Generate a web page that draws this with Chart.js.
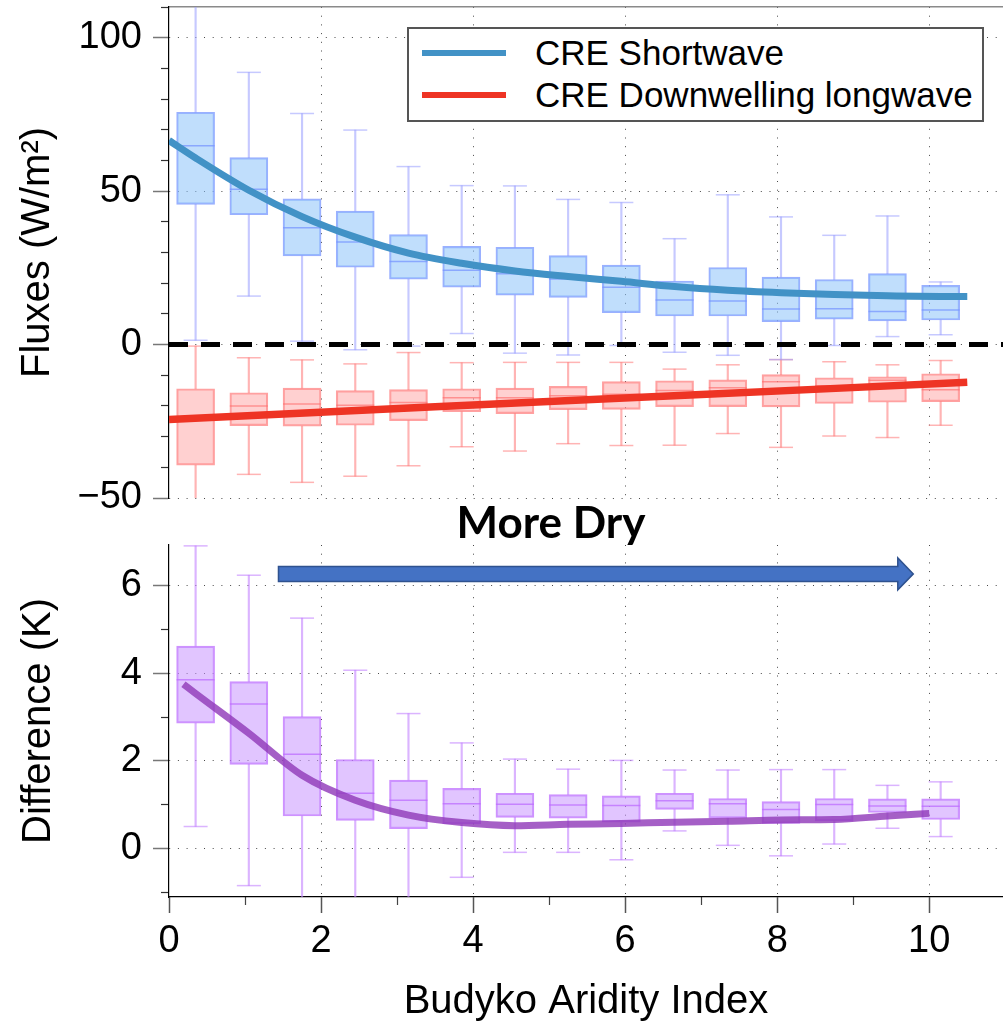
<!DOCTYPE html>
<html><head><meta charset="utf-8">
<script src="https://cdn.jsdelivr.net/npm/chart.js@4.4.1/dist/chart.umd.min.js"></script>
<style>
html,body{margin:0;padding:0;background:#fff;}
#wrap{position:relative;width:1003px;height:1023px;overflow:hidden;background:#fff;}
canvas{position:absolute;left:0;}
#c1{top:0;z-index:1;}
#c2{top:500px;z-index:2;}
#legend{position:absolute;left:407px;top:27px;width:577px;height:95px;box-sizing:border-box;border:2px solid #555;background:#fff;z-index:5;}
.sw{position:absolute;left:422px;width:84px;height:6px;z-index:6;}
.lt{position:absolute;left:535px;font-family:'Liberation Sans',Arial,sans-serif;font-size:35px;line-height:40px;color:#000;white-space:nowrap;z-index:6;}
#moredry{position:absolute;left:251px;width:600px;top:496px;text-align:center;font-family:Lato,'Open Sans',sans-serif;font-weight:700;font-size:44px;line-height:50px;color:#000;z-index:6;}
</style></head>
<body><div id="wrap">
<canvas id="c1" width="1003" height="520"></canvas>
<canvas id="c2" width="1003" height="523"></canvas>
<div id="legend"></div>
<div class="sw" style="top:50px;background:#4292C6;"></div>
<div class="sw" style="top:92px;background:#EE3424;"></div>
<div class="lt" style="top:33px;">CRE Shortwave</div>
<div class="lt" style="top:75px;">CRE Downwelling longwave</div>
<div id="moredry">More Dry</div>
</div>
<script>
// ---------------- data ----------------
const boxX = [0.35, 1.05, 1.75, 2.45, 3.15, 3.85, 4.55, 5.25, 5.95, 6.65, 7.35, 8.05, 8.75, 9.45, 10.15];

// CRE shortwave (W/m2)
const swLow  = [1.4, 15.8, 1.1, -1.7, -0.5, 3.6, -2.8, -3.4, -0.3, -2.5, -3.5, -4.9, -0.3, 2.6, 3.2];
const swQ1   = [45.7, 42.3, 28.9, 25.2, 21.3, 18.7, 16.1, 15.4, 10.4, 9.3, 9.3, 7.5, 8.3, 7.7, 8.0];
const swMed  = [64.8, 50.6, 38.1, 33.4, 27.1, 24.2, 23.1, 21.4, 18.7, 14.5, 14.2, 11.6, 11.7, 10.8, 11.3];
const swQ3   = [75.7, 60.9, 47.5, 43.5, 35.8, 32.0, 31.7, 29.0, 25.9, 20.7, 25.1, 22.0, 21.2, 23.1, 19.3];
const swHigh = [125, 88.7, 75.3, 69.9, 58.0, 51.8, 51.7, 47.3, 46.3, 34.5, 48.8, 41.6, 35.6, 41.9, 20.4];

// CRE downwelling longwave (W/m2)
const lwLow  = [-55, -42.3, -44.9, -42.9, -39.5, -33.3, -34.7, -32.3, -32.9, -32.8, -29.0, -33.5, -29.8, -30.3, -26.3];
const lwQ1   = [-39.3, -26.4, -26.6, -26.3, -24.8, -21.9, -22.5, -21.2, -21.1, -20.2, -20.2, -20.3, -19.2, -18.8, -18.6];
const lwMed  = [-24.0, -20.0, -19.4, -19.8, -18.9, -17.3, -17.3, -16.7, -16.2, -15.0, -14.1, -12.1, -13.4, -11.6, -14.7];
const lwQ3   = [-14.4, -15.7, -14.2, -15.0, -14.7, -14.4, -14.2, -13.6, -12.1, -11.8, -11.5, -9.8, -10.8, -10.5, -9.5];
const lwHigh = [-0.5, -4.3, -5.0, -6.3, -2.6, -5.9, -5.8, -5.8, -5.8, -8.0, -6.6, -4.9, -5.6, -6.6, -5.2];

// Temperature difference (K)
const dtLow  = [0.50, -0.85, -1.5, -1.5, -1.3, -0.66, -0.09, -0.09, -0.26, 0.40, 0.07, -0.17, 0.10, 0.46, 0.27];
const dtQ1   = [2.86, 1.92, 0.74, 0.64, 0.45, 0.56, 0.71, 0.69, 0.60, 0.89, 0.69, 0.57, 0.63, 0.82, 0.66];
const dtMed  = [3.85, 3.30, 2.15, 1.26, 1.10, 1.02, 1.01, 0.99, 0.98, 1.09, 1.02, 0.89, 1.00, 0.97, 0.96];
const dtQ3   = [4.62, 3.81, 3.01, 2.03, 1.56, 1.37, 1.26, 1.23, 1.20, 1.26, 1.14, 1.07, 1.14, 1.13, 1.13];
const dtHigh = [6.91, 6.24, 5.26, 4.07, 3.08, 2.41, 2.04, 1.81, 2.01, 1.79, 1.79, 1.80, 1.80, 1.44, 1.52];

// fitted curves
const swFitX = [0, 0.35, 1.05, 1.75, 2.45, 3.15, 3.85, 4.55, 5.25, 5.95, 6.65, 7.35, 8.05, 8.75, 9.45, 10.15, 10.5];
const swFitY = [66.5, 60.8, 50.3, 41.7, 35.0, 29.8, 26.5, 24.0, 22.2, 20.6, 18.9, 17.7, 16.9, 16.3, 15.9, 15.7, 15.7];
const lwFitX = [0, 3.5, 7.0, 10.5];
const lwFitY = [-24.4, -20.3, -16.3, -12.3];
const dtFitX = [0.19, 0.35, 1.05, 1.75, 2.45, 3.15, 3.85, 4.55, 5.25, 5.95, 6.65, 7.35, 8.05, 8.75, 9.45, 10.0];
const dtFitY = [3.75, 3.54, 2.63, 1.67, 1.10, 0.76, 0.59, 0.52, 0.55, 0.57, 0.60, 0.62, 0.65, 0.66, 0.74, 0.80];

// axes / ticks
const xMajorTicks = [0, 2, 4, 6, 8, 10];
const xMinorTicks = [1, 3, 5, 7, 9];
const fluxMajorTicks = [-50, 0, 50, 100];
const fluxMinorTicks = [-40, -30, -20, -10, 10, 20, 30, 40, 60, 70, 80, 90, 110];
const dtMajorTicks = [0, 2, 4, 6];
const dtMinorTicks = [-1, 1, 3, 5];
const zeroLineX = [0, 10.97];
const zeroLineY = [0, 0];

// ---------------- styles / layout ----------------
const FONT = "'Liberation Sans', Arial, sans-serif";
const X_RANGE = {min: 0, max: 10.97, offset: false};
const FLUX_RANGE = {min: -50, max: 110};
const DT_RANGE = {min: -1.11, max: 6.93};
const ARROW = {from: 1.44, to: 9.79, at: 6.27};
const GRID = 'rgba(40,40,40,0.85)';
const DOTS = [1, 7.7];

const blueCol = {fill: 'rgba(140,195,250,0.55)', border: 'rgba(120,150,255,0.75)', whisker: 'rgba(160,165,255,0.6)'};
const redCol = {fill: 'rgba(255,150,150,0.45)', border: 'rgba(255,110,110,0.65)', whisker: 'rgba(255,130,130,0.6)'};
const purpCol = {fill: 'rgba(200,150,255,0.55)', border: 'rgba(190,110,255,0.75)', whisker: 'rgba(195,130,255,0.6)'};

const pts = (xs, ys) => xs.map((x, i) => ({x: x, y: ys[i]}));
const rng = (xs, a, b) => xs.map((x, i) => ({x: x, y: [a[i], b[i]]}));

function boxDatasets(low, q1, med, q3, high, col) {
  return [
    {type: 'line', data: pts(boxX, med), showLine: false, pointStyle: 'line', pointRadius: 19, pointHoverRadius: 19,
     pointBorderWidth: 1.5, pointBorderColor: col.border, pointBackgroundColor: col.border, borderColor: col.border, order: 2, clip: 0},
    {type: 'bar', data: rng(boxX, q1, q3), backgroundColor: col.fill, borderColor: col.border, borderWidth: 1.5,
     borderSkipped: false, barThickness: 38, grouped: false, order: 3, clip: 0},
    {type: 'line', data: pts(boxX, low).concat(pts(boxX, high)), showLine: false, pointStyle: 'line', pointRadius: 12, pointHoverRadius: 12,
     pointBorderWidth: 1.5, pointBorderColor: col.whisker, borderColor: col.whisker, order: 4, clip: 0},
    {type: 'bar', data: rng(boxX, low, q1), backgroundColor: col.whisker, borderWidth: 0, barThickness: 1.5, grouped: false, order: 5, clip: 0},
    {type: 'bar', data: rng(boxX, q3, high), backgroundColor: col.whisker, borderWidth: 0, barThickness: 1.5, grouped: false, order: 5, clip: 0}
  ];
}
function fitLine(xs, ys, color, width) {
  return {type: 'line', data: pts(xs, ys), borderColor: color, borderWidth: width, pointRadius: 0, pointHoverRadius: 0,
          cubicInterpolationMode: 'monotone', fill: false, order: 0, borderCapStyle: 'butt'};
}
const setTicks = vals => s => { s.ticks = vals.map(v => ({value: v})); };
const fixSize = (prop, val) => s => { s[prop] = val; s.paddingTop = 0; s.paddingBottom = 0; s.paddingLeft = 0; s.paddingRight = 0; };
const fmt = v => String(v).replace('-', '\u2212');
const gridColorNoZero = c => (c.tick && c.tick.value === 0) ? 'rgba(0,0,0,0)' : GRID;

function yMajor(range, ticks, title, titlePad) {
  return Object.assign({type: 'linear', position: 'left', weight: 1,
    afterBuildTicks: setTicks(ticks), afterFit: fixSize('width', 169),
    ticks: {font: {family: FONT, size: 38}, color: '#000', padding: 11, callback: fmt, autoSkip: false, maxRotation: 0},
    grid: {color: GRID, lineWidth: 1, drawTicks: true, tickLength: 16, tickColor: '#777', tickWidth: 1.5},
    border: {display: true, color: '#000', width: 1.2, dash: DOTS},
    title: {display: true, text: title, font: {family: FONT, size: 40}, color: '#000', padding: {top: titlePad, bottom: 0}}
  }, range);
}
function yMinor(range, ticks) {
  return Object.assign({type: 'linear', position: 'left', weight: 0, display: true,
    afterBuildTicks: setTicks(ticks), afterFit: fixSize('width', 0),
    ticks: {display: false},
    grid: {drawOnChartArea: false, drawTicks: true, tickLength: 8, tickColor: '#333', tickWidth: 1.2},
    border: {display: false}
  }, range);
}

const common = {
  responsive: false, animation: false, devicePixelRatio: 1, events: [],
  plugins: {legend: {display: false}, tooltip: {enabled: false}}
};

// ---------------- top panel ----------------
new Chart(document.getElementById('c1'), {
  type: 'bar',
  data: {datasets: [
    fitLine(swFitX, swFitY, '#4292C6', 7),
    fitLine(lwFitX, lwFitY, '#EE3424', 7.5),
    {type: 'line', data: pts(zeroLineX, zeroLineY), borderColor: '#000', borderWidth: 5, borderDash: [19, 13],
     pointRadius: 0, order: 1, borderCapStyle: 'butt'},
    ...boxDatasets(swLow, swQ1, swMed, swQ3, swHigh, blueCol),
    ...boxDatasets(lwLow, lwQ1, lwMed, lwQ3, lwHigh, redCol)
  ]},
  options: Object.assign({}, common, {
    layout: {autoPadding: false, padding: {top: 7, left: 0, right: 0, bottom: 0}},
    scales: {
      x: Object.assign({type: 'linear', position: 'bottom', weight: 1,
        afterBuildTicks: setTicks([2, 4, 6, 8, 10]), afterFit: fixSize('height', 22),
        ticks: {display: false},
        grid: {color: GRID, lineWidth: 1, drawTicks: false, offset: false},
        border: {display: false, dash: DOTS}}, X_RANGE),
      xTop: Object.assign({type: 'linear', position: 'top', display: true,
        afterBuildTicks: setTicks([]), afterFit: fixSize('height', 0),
        ticks: {display: false}, grid: {display: false, drawTicks: false, offset: false},
        border: {display: true, color: '#8a8a8a', width: 1.5}}, X_RANGE),
      y: yMajor(FLUX_RANGE, fluxMajorTicks, 'Fluxes (W/m\u00B2)', 14),
      yMinor: yMinor(FLUX_RANGE, fluxMinorTicks)
    }
  })
});

// ---------------- bottom panel ----------------
const arrowPlugin = {
  id: 'dryArrow',
  afterDatasetsDraw(chart) {
    const {ctx, scales} = chart;
    const x0 = scales.x.getPixelForValue(ARROW.from);
    const x1 = scales.x.getPixelForValue(ARROW.to);
    const yc = scales.y.getPixelForValue(ARROW.at);
    const sh = 7.5, hh = 16, hl = 15.5;
    ctx.save();
    ctx.beginPath();
    ctx.moveTo(x0, yc - sh); ctx.lineTo(x1 - hl, yc - sh); ctx.lineTo(x1 - hl, yc - hh);
    ctx.lineTo(x1, yc); ctx.lineTo(x1 - hl, yc + hh); ctx.lineTo(x1 - hl, yc + sh); ctx.lineTo(x0, yc + sh);
    ctx.closePath();
    ctx.fillStyle = '#4472C4'; ctx.fill();
    ctx.lineWidth = 1.5; ctx.strokeStyle = '#2F528F'; ctx.stroke();
    ctx.restore();
  }
};

new Chart(document.getElementById('c2'), {
  type: 'bar',
  data: {datasets: [
    fitLine(dtFitX, dtFitY, 'rgba(145,60,185,0.82)', 7),
    ...boxDatasets(dtLow, dtQ1, dtMed, dtQ3, dtHigh, purpCol)
  ]},
  options: Object.assign({}, common, {
    layout: {autoPadding: false, padding: {top: 45, left: 0, right: 0, bottom: 0}},
    scales: {
      x: Object.assign({type: 'linear', position: 'bottom', weight: 1,
        afterBuildTicks: setTicks(xMajorTicks), afterFit: fixSize('height', 126),
        ticks: {font: {family: FONT, size: 38}, color: '#000', padding: 6, callback: fmt, autoSkip: false, maxRotation: 0},
        grid: {color: gridColorNoZero, lineWidth: 1, drawTicks: true, tickLength: 16, tickColor: '#555', tickWidth: 1.5, offset: false},
        border: {display: true, color: '#000', width: 1.2, dash: DOTS},
        title: {display: true, text: 'Budyko Aridity Index', font: {family: FONT, size: 40}, color: '#000', padding: {top: 0, bottom: -3}}
      }, X_RANGE),
      xMinor: Object.assign({type: 'linear', position: 'bottom', weight: 0, display: true,
        afterBuildTicks: setTicks(xMinorTicks), afterFit: fixSize('height', 0),
        ticks: {display: false},
        grid: {drawOnChartArea: false, drawTicks: true, tickLength: 8, tickColor: '#444', tickWidth: 1.2, offset: false},
        border: {display: false}}, X_RANGE),
      y: yMajor(DT_RANGE, dtMajorTicks, 'Difference (K)', 15),
      yMinor: yMinor(DT_RANGE, dtMinorTicks)
    }
  }),
  plugins: [arrowPlugin]
});
</script>
</body></html>
